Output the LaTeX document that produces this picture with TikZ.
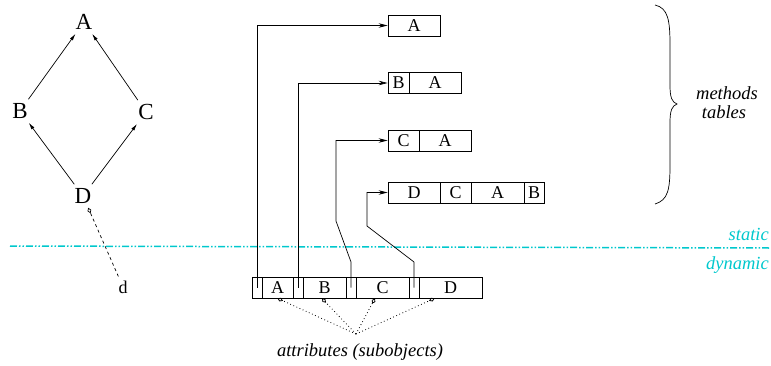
\documentclass[tikz,border=0pt]{standalone}
\usepackage{fontspec}
\setmainfont{Liberation Serif}
\usetikzlibrary{arrows.meta,calc}
\definecolor{cyanline}{RGB}{0,200,205}
\begin{document}
\begin{tikzpicture}[x=1pt,y=-1pt,
  big/.style={font=\fontsize{23}{26}\selectfont, inner sep=4pt},
  cell/.style={draw, minimum height=21pt, inner sep=0pt, font=\fontsize{18}{20}\selectfont, line width=0.7pt},
  lab/.style={font=\fontsize{18.5}{21}\selectfont\itshape, inner sep=0pt},
  ptr/.style={-{Stealth[length=9pt,width=4.5pt]}, line width=0.7pt},
  inh/.style={-{Latex[length=7pt,width=3.5pt]}, line width=0.7pt},
  att/.style={dash pattern=on 0.8pt off 2.6pt, line width=0.8pt, -{Diamond[open,length=6pt,width=4pt]}},
  sd/.style={cyanline, line width=1.5pt, dash pattern=on 7pt off 2pt on 1.5pt off 2pt on 1.5pt off 2pt}]
\useasboundingbox (0,0) rectangle (771,365);
% class hierarchy
\node[big] (A) at (84,22) {A};
\node[big] (B) at (20,111) {B};
\node[big] (C) at (146,112) {C};
\node[big] (D) at (83,196) {D};
\node[font=\fontsize{18}{20}\selectfont, inner sep=4pt] (d) at (123,287) {d};
\draw[inh] (B) -- (A);
\draw[inh] (C) -- (A);
\draw[inh] (D) -- (B);
\draw[inh] (D) -- (C);
\draw[dashed, line width=0.7pt, -{Diamond[open,length=6pt,width=4pt]}] (d) -- (D);
% static / dynamic separator
\coordinate (sl) at (10,246);
\coordinate (sr) at (771,248);
\draw[sd] (sl) -- (sr);
\node[lab, text=cyanline, anchor=east] (st) at (769,234) {static};
\node[lab, text=cyanline, anchor=east] (dy) at (769,265) {dynamic};
% methods tables
\node[cell, minimum width=52pt] (m1) at (414,25.5) {A};
\node[cell, minimum width=21pt] (m2a) at (398.5,83) {B};
\node[cell, minimum width=52pt] (m2b) at (435,83) {A};
\node[cell, minimum width=31pt] (m3a) at (403.5,140.5) {C};
\node[cell, minimum width=52pt] (m3b) at (445,140.5) {A};
\node[cell, minimum width=52pt] (m4a) at (414,192.5) {D};
\node[cell, minimum width=31pt] (m4b) at (455.5,192.5) {C};
\node[cell, minimum width=53pt] (m4c) at (497.5,192.5) {A};
\node[cell, minimum width=20pt] (m4d) at (534,192.5) {B};
% object layout
\node[cell, minimum width=10pt] (o1) at (257,287.5) {};
\node[cell, minimum width=31pt] (o2) at (277.5,287.5) {A};
\node[cell, minimum width=10pt] (o3) at (298,287.5) {};
\node[cell, minimum width=43pt] (o4) at (324.5,287.5) {B};
\node[cell, minimum width=10pt] (o5) at (351,287.5) {};
\node[cell, minimum width=53pt] (o6) at (382.5,287.5) {C};
\node[cell, minimum width=10pt] (o7) at (414,287.5) {};
\node[cell, minimum width=63pt] (o8) at (450.5,287.5) {D};
% pointers
\draw[ptr] (o1.center) |- (m1.west);
\draw[ptr] (o3.center) |- (m2a.west);
\draw[ptr] (o5.center) -- (351,262) -- (336,221) |- (m3a.west);
\draw[ptr] (o7.center) -- (414,262) -- (367,226) |- (m4a.west);
% brace
\draw[line width=0.7pt] (655,5) .. controls (668,8) and (670,20) .. (670,45) -- (670,85)
  .. controls (670,98) and (672,102) .. (677,104)
  .. controls (672,106) and (670,110) .. (670,123) -- (670,165)
  .. controls (670,190) and (668,200) .. (655,204);
\node[lab] (mt1) at (727,93) {methods};
\node[lab] (mt2) at (724,112) {tables};
% attributes
\coordinate (at) at (356,334);
\draw[att] (at) -- ($(o2.south west)!0.5!(o2.south east)$);
\draw[att] (at) -- ($(o4.south west)!0.44!(o4.south east)$);
\draw[att] (at) -- ($(o6.south west)!0.36!(o6.south east)$);
\draw[att] (at) -- ($(o8.south west)!0.25!(o8.south east)$);
\node[lab] (attl) at (360,352) {attributes (subobjects)};
\end{tikzpicture}
\end{document}
